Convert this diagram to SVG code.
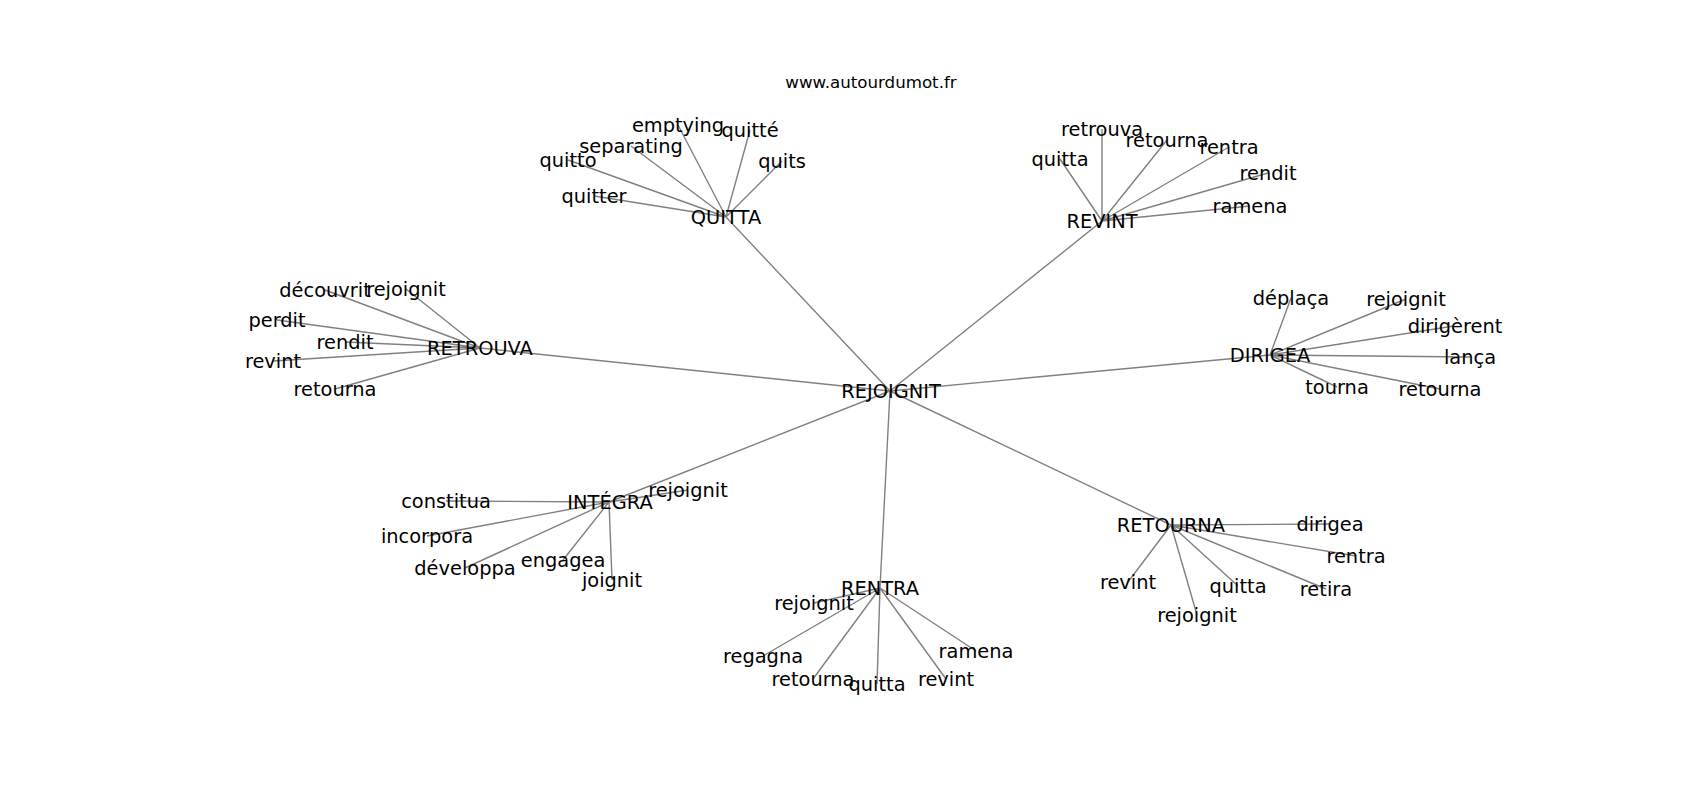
<svg xmlns="http://www.w3.org/2000/svg" width="1700" height="800" viewBox="0 0 1700 800">
<style>
.e{stroke:#808080;stroke-width:1.4;fill:none}
.t{font-family:"DejaVu Sans",sans-serif;font-size:19.4px;fill:#000;text-anchor:middle}
.title{font-family:"DejaVu Sans",sans-serif;font-size:16.67px;fill:#000;text-anchor:middle}
</style>
<rect width="1700" height="800" fill="#fff"/>
<text class="title" x="871" y="88">www.autourdumot.fr</text>
<g id="connectors">
<path class="e" d="M890 391L726 217M890 391L1102 221M890 391L480 348M890 391L1270 355M890 391L609 502M890 391L880 588M890 391L1171 525"/>
<path class="e" d="M726 217L678 125M726 217L750 130M726 217L631 146M726 217L568 160M726 217L782 161M726 217L594 196"/>
<path class="e" d="M1102 221L1102 129M1102 221L1167 140M1102 221L1060 159M1102 221L1229 147M1102 221L1268 173M1102 221L1250 206"/>
<path class="e" d="M480 348L325 290M480 348L406 289M480 348L277 320M480 348L345 342M480 348L273 361M480 348L335 389"/>
<path class="e" d="M1270 355L1291 298M1270 355L1406 299M1270 355L1454 326M1270 355L1470 357M1270 355L1337 387M1270 355L1440 389"/>
<path class="e" d="M609 502L688 490M609 502L446 501M609 502L427 536M609 502L465 568M609 502L563 560M609 502L612 580"/>
<path class="e" d="M880 588L814 603M880 588L763 656M880 588L813 679M880 588L877 684M880 588L946 679M880 588L976 651"/>
<path class="e" d="M1171 525L1330 524M1171 525L1356 556M1171 525L1326 589M1171 525L1128 582M1171 525L1238 586M1171 525L1197 615"/>
</g>
<g id="n-rejoignit"><text class="t" x="891" y="397.5">REJOIGNIT</text></g>
<g id="n-quitta"><text class="t" x="726" y="223.5">QUITTA</text></g>
<g id="n-revint"><text class="t" x="1102" y="227.5">REVINT</text></g>
<g id="n-retrouva"><text class="t" x="480" y="354.5">RETROUVA</text></g>
<g id="n-dirigea"><text class="t" x="1270" y="361.5">DIRIGEA</text></g>
<g id="n-integra"><text class="t" x="610" y="508.5">INTÉGRA</text></g>
<g id="n-rentra"><text class="t" x="880" y="594.5">RENTRA</text></g>
<g id="n-retourna"><text class="t" x="1171" y="531.5">RETOURNA</text></g>
<g id="n-quitta-leaves">
<g id="q-emptying"><text class="t" x="678" y="131.5">emptying</text></g>
<g id="q-quitte"><text class="t" x="750" y="136.5">quitté</text></g>
<g id="q-separating"><text class="t" x="631" y="152.5">separating</text></g>
<g id="q-quitto"><text class="t" x="568" y="166.5">quitto</text></g>
<g id="q-quits"><text class="t" x="782" y="167.5">quits</text></g>
<g id="q-quitter"><text class="t" x="594" y="202.5">quitter</text></g>
</g>
<g id="n-revint-leaves">
<g id="rv-retrouva"><text class="t" x="1102" y="135.5">retrouva</text></g>
<g id="rv-retourna"><text class="t" x="1167" y="146.5">retourna</text></g>
<g id="rv-quitta"><text class="t" x="1060" y="165.5">quitta</text></g>
<g id="rv-rentra"><text class="t" x="1229" y="153.5">rentra</text></g>
<g id="rv-rendit"><text class="t" x="1268" y="179.5">rendit</text></g>
<g id="rv-ramena"><text class="t" x="1250" y="212.5">ramena</text></g>
</g>
<g id="n-retrouva-leaves">
<g id="rt-decouvrit"><text class="t" x="325" y="296.5">découvrit</text></g>
<g id="rt-rejoignit"><text class="t" x="406" y="295.5">rejoignit</text></g>
<g id="rt-perdit"><text class="t" x="277" y="326.5">perdit</text></g>
<g id="rt-rendit"><text class="t" x="345" y="348.5">rendit</text></g>
<g id="rt-revint"><text class="t" x="273" y="367.5">revint</text></g>
<g id="rt-retourna"><text class="t" x="335" y="395.5">retourna</text></g>
</g>
<g id="n-dirigea-leaves">
<g id="d-deplaca"><text class="t" x="1291" y="304.5">déplaça</text></g>
<g id="d-rejoignit"><text class="t" x="1406" y="305.5">rejoignit</text></g>
<g id="d-dirigerent"><text class="t" x="1455" y="332.5">dirigèrent</text></g>
<g id="d-lanca"><text class="t" x="1470" y="363.5">lança</text></g>
<g id="d-tourna"><text class="t" x="1337" y="393.5">tourna</text></g>
<g id="d-retourna"><text class="t" x="1440" y="395.5">retourna</text></g>
</g>
<g id="n-integra-leaves">
<g id="i-rejoignit"><text class="t" x="688" y="496.5">rejoignit</text></g>
<g id="i-constitua"><text class="t" x="446" y="507.5">constitua</text></g>
<g id="i-incorpora"><text class="t" x="427" y="542.5">incorpora</text></g>
<g id="i-developpa"><text class="t" x="465" y="574.5">développa</text></g>
<g id="i-engagea"><text class="t" x="563" y="566.5">engagea</text></g>
<g id="i-joignit"><text class="t" x="612" y="586.5">joignit</text></g>
</g>
<g id="n-rentra-leaves">
<g id="re-rejoignit"><text class="t" x="814" y="609.5">rejoignit</text></g>
<g id="re-regagna"><text class="t" x="763" y="662.5">regagna</text></g>
<g id="re-retourna"><text class="t" x="813" y="685.5">retourna</text></g>
<g id="re-quitta"><text class="t" x="877" y="690.5">quitta</text></g>
<g id="re-revint"><text class="t" x="946" y="685.5">revint</text></g>
<g id="re-ramena"><text class="t" x="976" y="657.5">ramena</text></g>
</g>
<g id="n-retourna-leaves">
<g id="ro-dirigea"><text class="t" x="1330" y="530.5">dirigea</text></g>
<g id="ro-rentra"><text class="t" x="1356" y="562.5">rentra</text></g>
<g id="ro-retira"><text class="t" x="1326" y="595.5">retira</text></g>
<g id="ro-revint"><text class="t" x="1128" y="588.5">revint</text></g>
<g id="ro-quitta"><text class="t" x="1238" y="592.5">quitta</text></g>
<g id="ro-rejoignit"><text class="t" x="1197" y="621.5">rejoignit</text></g>
</g>
</svg>
